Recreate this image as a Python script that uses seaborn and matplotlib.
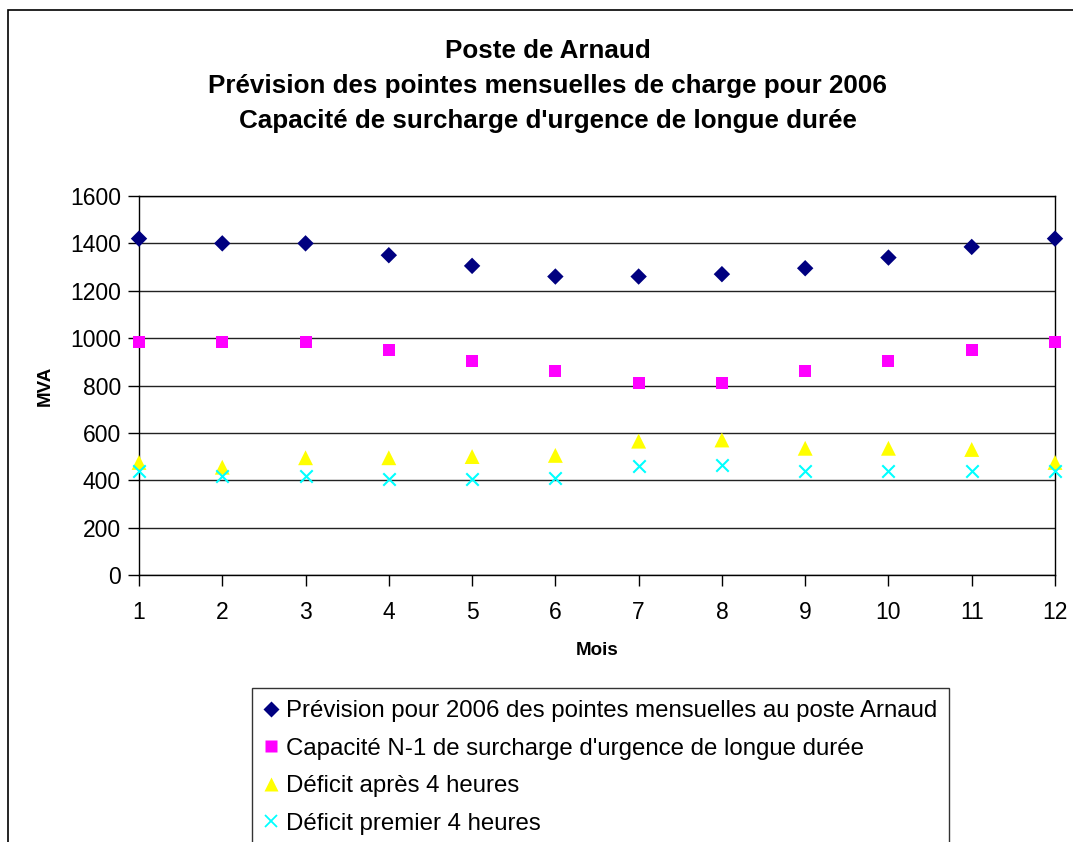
import numpy as np
import pandas as pd
import matplotlib
matplotlib.use("Agg")
import matplotlib.pyplot as plt
import seaborn as sns
from matplotlib.lines import Line2D
from matplotlib.patches import Rectangle

# données
mois = [1, 2, 3, 4, 5, 6, 7, 8, 9, 10, 11, 12]
prevision = [1420, 1400, 1400, 1350, 1305, 1260, 1260, 1270, 1295, 1340, 1385, 1420]
capacite = [985, 985, 985, 950, 905, 860, 810, 810, 860, 905, 950, 985]
deficit_apres = [475, 455, 495, 495, 500, 505, 565, 570, 535, 535, 530, 475]
deficit_premier = [440, 420, 420, 405, 405, 410, 460, 465, 440, 440, 440, 440]

noms = [
    "Prévision pour 2006 des pointes mensuelles au poste Arnaud",
    "Capacité N-1 de surcharge d'urgence de longue durée",
    "Déficit après 4 heures",
    "Déficit premier 4 heures",
]
couleurs = ["#000080", "#FF00FF", "#FFFF00", "#00FFFF"]
marqueurs = ["D", "s", "^", "x"]
tailles = [70, 75, 115, 80]
y_ticks = [0, 200, 400, 600, 800, 1000, 1200, 1400, 1600]

sns.set_style("white")
plt.rcParams["font.family"] = ["Liberation Sans", "DejaVu Sans"]
plt.rcParams["text.color"] = "black"
plt.rcParams["axes.labelcolor"] = "black"
plt.rcParams["xtick.color"] = "black"
plt.rcParams["ytick.color"] = "black"

fig = plt.figure(figsize=(10.73, 8.42), dpi=100)
ax = fig.add_axes([139 / 1073, 1 - 575 / 842, (1055 - 139) / 1073, (575 - 196) / 842])

series = [prevision, capacite, deficit_apres, deficit_premier]
df = pd.DataFrame({"Mois": mois})
for nom, vals in zip(noms, series):
    df[nom] = vals

for nom, c, m, s in zip(noms, couleurs, marqueurs, tailles):
    if m == "x":
        sns.scatterplot(data=df, x="Mois", y=nom, ax=ax, marker=m, color=c,
                        s=s, linewidth=1.5, clip_on=False, zorder=5)
    else:
        sns.scatterplot(data=df, x="Mois", y=nom, ax=ax, marker=m, color=c,
                        s=s, edgecolor="none", clip_on=False, zorder=5)

ax.set_xlim(1, 12)
ax.set_ylim(0, 1600)
ax.set_xticks(mois)
ax.set_yticks(y_ticks)
ax.tick_params(axis="both", labelsize=16.5, length=8, width=1, color="black",
               direction="out", left=True, bottom=True, pad=5)
ax.tick_params(axis="x", pad=11)
ax.yaxis.grid(True, color="#222222", linewidth=1)
ax.xaxis.grid(False)
for sp in ax.spines.values():
    sp.set_color("black")
    sp.set_linewidth(1)
    sp.set_visible(True)

ax.set_ylabel("MVA", fontsize=13.5, fontweight="bold", labelpad=12)
ax.set_xlabel("Mois", fontsize=13.5, fontweight="bold", labelpad=13)

fig.text(548 / 1073, 1 - 86 / 842,
         "Poste de Arnaud\nPrévision des pointes mensuelles de charge pour 2006\n"
         "Capacité de surcharge d'urgence de longue durée",
         ha="center", va="center", fontsize=18.7, fontweight="bold", linespacing=1.6)

# cadre extérieur
fig.patches.append(Rectangle((8 / 1073, -0.1), 1.2, 1 - 10 / 842 + 0.1,
                             transform=fig.transFigure, fill=False,
                             edgecolor="black", linewidth=1.2))

poignees = []
for nom, c, m in zip(noms, couleurs, marqueurs):
    if m == "x":
        h = Line2D([], [], linestyle="none", marker=m, color=c, markersize=9,
                   markeredgewidth=1.3)
    elif m == "^":
        h = Line2D([], [], linestyle="none", marker=m, color=c, markersize=10,
                   markeredgecolor="none")
    else:
        h = Line2D([], [], linestyle="none", marker=m, color=c, markersize=8,
                   markeredgecolor="none")
    poignees.append(h)

leg = fig.legend(poignees, noms, loc="upper left",
                 bbox_to_anchor=(252 / 1073, 1 - 688 / 842),
                 fontsize=17.3, frameon=True, fancybox=False, edgecolor="black",
                 handlelength=0.6, handletextpad=0.3, labelspacing=0.65,
                 borderpad=0.5, borderaxespad=0)
leg.get_frame().set_linewidth(1)

fig.savefig("out.png", dpi=100)
